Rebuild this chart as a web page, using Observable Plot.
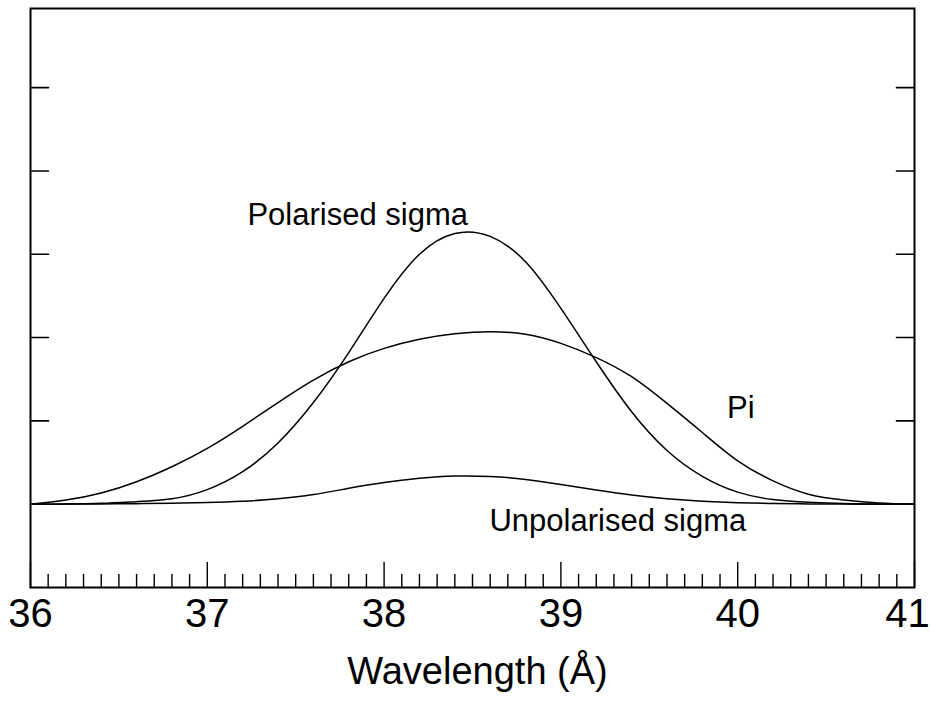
<!DOCTYPE html>
<html>
<head>
<meta charset="utf-8">
<script src="https://cdn.jsdelivr.net/npm/d3@7"></script>
<script src="https://cdn.jsdelivr.net/npm/@observablehq/plot@0.6"></script>
<style>
  html, body { margin: 0; padding: 0; background: #fff; }
</style>
</head>
<body>
<div id="chart"></div>
<script>
// Line profiles sampled along the wavelength axis (Å)
const wavelength = [36.0, 36.2, 36.4, 36.6, 36.8, 37.0, 37.2, 37.4, 37.6, 37.8, 38.0, 38.2, 38.4,
                    38.6, 38.8, 39.0, 39.2, 39.4, 39.6, 39.8, 40.0, 40.2, 40.4, 40.6, 40.8, 41.0];
const polarisedSigma = [0.00, 0.002, 0.01, 0.03, 0.065, 0.175, 0.39, 0.735, 1.22, 1.82, 2.47, 3.00, 3.25,
                        3.215, 2.91, 2.35, 1.71, 1.11, 0.645, 0.335, 0.145, 0.055, 0.022, 0.007, 0.002, 0.00];
const piComponent = [0.00, 0.05, 0.135, 0.27, 0.45, 0.67, 0.935, 1.22, 1.49, 1.71, 1.87, 1.98, 2.045,
                     2.07, 2.04, 1.93, 1.76, 1.53, 1.21, 0.86, 0.52, 0.28, 0.12, 0.05, 0.015, 0.00];
const unpolarisedSigma = [0.00, 0.001, 0.003, 0.006, 0.012, 0.02, 0.035, 0.065, 0.115, 0.19, 0.26, 0.31, 0.337,
                          0.332, 0.297, 0.235, 0.17, 0.11, 0.065, 0.035, 0.017, 0.008, 0.003, 0.001, 0.00, 0.00];

// Axis ticks
const xMajorTicks = [36, 37, 38, 39, 40, 41];
const xMinorTicks = d3.range(361, 410).map(d => d / 10).filter(d => !Number.isInteger(d));
const yTicks = [0, 1, 2, 3, 4, 5];

// Curve annotations
const curveLabels = [
  {text: "Polarised sigma", x: 37.227, y: 3.476},
  {text: "Pi", x: 39.94, y: 1.15},
  {text: "Unpolarised sigma", x: 38.596, y: -0.205}
];

const series = [
  {name: "Polarised sigma", values: polarisedSigma},
  {name: "Pi", values: piComponent},
  {name: "Unpolarised sigma", values: unpolarisedSigma}
];
const rows = series.flatMap(s => wavelength.map((w, i) => ({series: s.name, wavelength: w, value: s.values[i]})));

// A plain tick: a line from the anchor point, of the vector's length
const tickShape = {draw(context, l) { context.moveTo(0, 0); context.lineTo(0, -l); }};

const font = "'Liberation Sans', Arial, Helvetica, sans-serif";
const lastTick = xMajorTicks[xMajorTicks.length - 1];
const tickLabel = {anchor: "bottom", tickSize: 0, tickPadding: 11, fontSize: 40,
  tickFormat: d => String(d), fill: "black", label: null, fontFamily: font};

const chart = Plot.plot({
  width: 930,
  height: 704,
  marginLeft: 30,
  marginRight: 16,
  marginTop: 8,
  marginBottom: 117,
  style: {fontFamily: font, background: "white", color: "black"},
  x: {domain: [36, 41], axis: null},
  y: {domain: [-1, 5.95], axis: null},
  marks: [
    // inward ticks on the bottom edge
    Plot.vector(xMinorTicks, {x: d => d, frameAnchor: "bottom", length: 13, rotate: 0, anchor: "start",
      shape: tickShape, stroke: "black", strokeWidth: 1.4}),
    Plot.vector(xMajorTicks, {x: d => d, frameAnchor: "bottom", length: 25, rotate: 0, anchor: "start",
      shape: tickShape, stroke: "black", strokeWidth: 1.4}),
    // inward ticks on the left and right edges
    Plot.vector(yTicks, {y: d => d, frameAnchor: "left", length: 18, rotate: 90, anchor: "start",
      shape: tickShape, stroke: "black", strokeWidth: 1.6}),
    Plot.vector(yTicks, {y: d => d, frameAnchor: "right", length: 18, rotate: -90, anchor: "start",
      shape: tickShape, stroke: "black", strokeWidth: 1.6}),
    // tick labels; the last one is nudged in so it stays on the page
    Plot.axisX(xMajorTicks.slice(0, -1), tickLabel),
    Plot.axisX([lastTick], {...tickLabel, dx: -7}),
    Plot.text(["Wavelength (Å)"], {frameAnchor: "bottom", lineAnchor: "top", dy: 70, dx: 5,
      fontSize: 38, fill: "black", fontFamily: font}),
    Plot.line(rows, {x: "wavelength", y: "value", z: "series", curve: "natural",
      stroke: "black", strokeWidth: 1.5}),
    Plot.text(curveLabels, {x: "x", y: "y", text: "text", textAnchor: "start", lineAnchor: "middle",
      fontSize: 31, fill: "black", fontFamily: font}),
    Plot.frame({stroke: "black", strokeWidth: 2})
  ]
});

document.getElementById("chart").appendChild(chart);
</script>
</body>
</html>
